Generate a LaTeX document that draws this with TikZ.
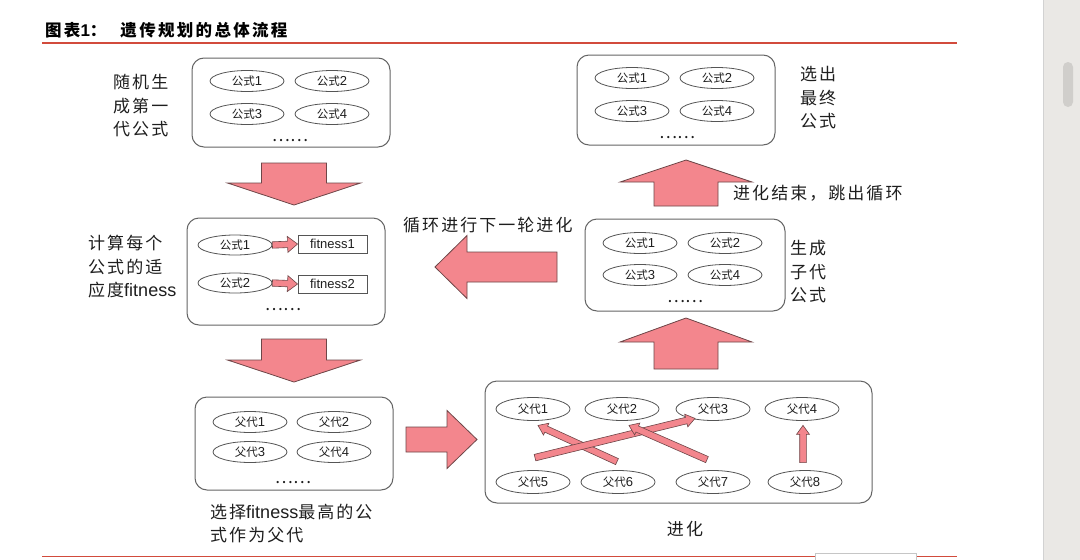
\documentclass[tikz,border=0pt]{standalone}
\usepackage{fontspec}
\setmainfont{Liberation Sans}
\newfontfamily\cjk{Noto Sans CJK SC}
\newfontfamily\cjkl[LetterSpace=12]{Noto Sans CJK SC}
\newfontfamily\cjkt[LetterSpace=14]{Noto Sans CJK SC}
\usetikzlibrary{shapes.geometric,calc}
\definecolor{pinkf}{RGB}{243,134,141}
\definecolor{arrline}{RGB}{110,70,72}
\definecolor{boxline}{RGB}{100,100,100}
\definecolor{ellline}{RGB}{85,85,85}
\definecolor{txt}{RGB}{30,30,30}
\definecolor{redline}{RGB}{210,75,60}
\definecolor{strip}{RGB}{234,232,229}
\definecolor{thumb}{RGB}{208,206,203}
\newcommand{\gongshi}[1]{{\cjk\fontsize{11.5}{13}\selectfont 公式}#1}
\newcommand{\fudai}[1]{{\cjk\fontsize{11.5}{13}\selectfont 父代}#1}
\newcommand{\fit}{{\rmfamily\fontsize{18}{20}\selectfont fitness}}
% #1 tail, #2 tip, #3 shaft half width, #4 head half width, #5 head length, #6 style
\newcommand{\blockarr}[6]{%
  \coordinate (hb) at ($(#2)!#5!(#1)$);
  \draw[#6] ($(#1)!#3!90:(#2)$) -- ($(hb)!#3!90:(#2)$) -- ($(hb)!#4!90:(#2)$) -- (#2)
    -- ($(hb)!#4!-90:(#2)$) -- ($(hb)!#3!-90:(#2)$) -- ($(#1)!#3!-90:(#2)$) -- cycle;}
\tikzset{
  box/.style={draw=boxline, line width=1pt, rounded corners=12pt, inner sep=0pt},
  ell/.style={ellipse, draw=ellline, line width=0.8pt, minimum width=74pt, minimum height=21pt,
    inner sep=0pt, text=txt, font=\fontsize{13}{15}\selectfont},
  frect/.style={draw=ellline, line width=0.9pt, minimum width=69pt, minimum height=18pt,
    inner sep=0pt, text=txt, font=\fontsize{13}{15}\selectfont},
  bigarr/.style={fill=pinkf, draw=arrline, line width=0.8pt, line join=miter},
  smallarr/.style={fill=pinkf, draw=arrline, line width=0.6pt, line join=miter},
  lab/.style={font=\cjkl\fontsize{17}{23.5}\selectfont, text=txt, align=left, inner sep=0pt},
  dots/.style={font=\cjk\fontsize{17}{19}\selectfont, text=txt, inner sep=0pt}
}
\begin{document}
\begin{tikzpicture}[x=1pt,y=-1pt]
\useasboundingbox (0,0) rectangle (1080,560);
\fill[white] (0,0) rectangle (1080,560);
% screen strip on the right
\fill[strip] (1043,0) rectangle (1080,560);
\draw[gray!35, line width=0.6pt] (1043,0) -- (1043,560);
\fill[thumb, rounded corners=5pt] (1063,62) rectangle (1073,107);
% title and rules
\node[anchor=west, inner sep=0pt, text=black, font=\cjkt\bfseries\fontsize{16.5}{18}\selectfont] (title) at (45,30)
  {图表{\fontspec{Liberation Sans Bold}\fontsize{17}{18}\selectfont 1}：\hspace{14pt}遗传规划的总体流程};
\draw[redline, line width=1.5pt] (42,43) -- (957,43);
\draw[redline, line width=1.6pt] (42,556.5) -- (957,556.5);
\filldraw[fill=white, draw=gray!45, line width=0.7pt] (815,553) rectangle (916,563);

% Box A: first generation
\node[box, minimum width=198pt, minimum height=89pt] (A) at (291,102.5) {};
\node[ell] (a1) at (247,81) {\gongshi{1}};
\node[ell] (a2) at (332,81) {\gongshi{2}};
\node[ell] (a3) at (247,114) {\gongshi{3}};
\node[ell] (a4) at (332,114) {\gongshi{4}};
\node[dots] (adots) at (290,141) {……};
\node[lab, anchor=west] (la) at (113,106) {随机生\\成第一\\代公式};

% Box B: final formulas
\node[box, minimum width=198pt, minimum height=90pt] (B) at (676,100) {};
\node[ell] (b1) at (632,78) {\gongshi{1}};
\node[ell] (b2) at (717,78) {\gongshi{2}};
\node[ell] (b3) at (632,111) {\gongshi{3}};
\node[ell] (b4) at (717,111) {\gongshi{4}};
\node[dots] (bdots) at (677,138) {……};
\node[lab, anchor=west] (lb) at (800,98) {选出\\最终\\公式};

% Box C: fitness
\node[box, minimum width=198pt, minimum height=107pt] (C) at (286,271.5) {};
\node[ell, minimum height=20pt] (c1) at (235,245) {\gongshi{1}};
\node[ell, minimum height=20pt] (c2) at (235,283) {\gongshi{2}};
\node[frect] (f1) at (332.5,244) {fitness1};
\node[frect] (f2) at (332.5,284) {fitness2};
\node[dots] (cdots) at (283,310) {……};
\node[lab, anchor=west] (lc) at (88,267) {计算每个\\公式的适\\应度\fit};
\blockarr{c1.east}{f1.west}{3.2pt}{8pt}{10pt}{smallarr}
\blockarr{c2.east}{f2.west}{3.2pt}{8pt}{10pt}{smallarr}

% Box D: offspring
\node[box, minimum width=200pt, minimum height=92pt] (D) at (685,265) {};
\node[ell] (d1) at (640,243) {\gongshi{1}};
\node[ell] (d2) at (725,243) {\gongshi{2}};
\node[ell] (d3) at (640,275) {\gongshi{3}};
\node[ell] (d4) at (725,275) {\gongshi{4}};
\node[dots] (ddots) at (685,302) {……};
\node[lab, anchor=west] (ld) at (790,272) {生成\\子代\\公式};

% Box E: parents
\node[box, minimum width=198pt, minimum height=93pt] (E) at (294,443.5) {};
\node[ell] (e1) at (250,422) {\fudai{1}};
\node[ell] (e2) at (334,422) {\fudai{2}};
\node[ell] (e3) at (250,452) {\fudai{3}};
\node[ell] (e4) at (334,452) {\fudai{4}};
\node[dots] (edots) at (293,483) {……};
\node[lab, anchor=west] (le) at (210,523.5) {选择\fit 最高的公\\式作为父代};

% Box F: evolution
\node[box, minimum width=387pt, minimum height=122pt] (F) at (678.5,442) {};
\node[ell, minimum height=23pt] (p1) at (533,409) {\fudai{1}};
\node[ell, minimum height=23pt] (p2) at (622,409) {\fudai{2}};
\node[ell, minimum height=23pt] (p3) at (713,409) {\fudai{3}};
\node[ell, minimum height=23pt] (p4) at (802,409) {\fudai{4}};
\node[ell, minimum height=23pt] (p5) at (533,482) {\fudai{5}};
\node[ell, minimum height=23pt] (p6) at (618,482) {\fudai{6}};
\node[ell, minimum height=23pt] (p7) at (713,482) {\fudai{7}};
\node[ell, minimum height=23pt] (p8) at (805,482) {\fudai{8}};
\node[lab, anchor=center] (lf) at (685,529) {进化};
\coordinate (t61) at ($(p6.north)+(-1,-8.5)$);
\coordinate (h61) at ($(p1.south)+(5,4.5)$);
\coordinate (t53) at ($(p5.north)+(2,-12.5)$);
\coordinate (h53) at ($(p3.south)+(-18,-2.5)$);
\coordinate (t72) at ($(p7.north)+(-6,-10.5)$);
\coordinate (h72) at ($(p2.south)+(7,4.5)$);
\coordinate (t84) at ($(p8.north)+(-2,-7.5)$);
\coordinate (h84) at ($(p4.south)+(1,4.5)$);
\blockarr{t61}{h61}{3.3pt}{6.5pt}{9pt}{smallarr}
\blockarr{t53}{h53}{3.3pt}{6.5pt}{9pt}{smallarr}
\blockarr{t72}{h72}{3.3pt}{6.5pt}{9pt}{smallarr}
\blockarr{t84}{h84}{3.3pt}{6.5pt}{9pt}{smallarr}

% big arrows
\coordinate (ad1s) at (294,163);   \coordinate (ad1e) at (294,205);
\coordinate (ad2s) at (294,339);   \coordinate (ad2e) at (294,382);
\coordinate (ars) at (406,439.5);  \coordinate (are) at (477,439.5);
\coordinate (au2s) at (686,369);   \coordinate (au2e) at (686,318);
\coordinate (au1s) at (686,206);   \coordinate (au1e) at (686,160);
\coordinate (als) at (557,267);    \coordinate (ale) at (435,267);
\blockarr{ad1s}{ad1e}{32.5pt}{66.5pt}{22pt}{bigarr}
\blockarr{ad2s}{ad2e}{32.5pt}{66.5pt}{22pt}{bigarr}
\blockarr{ars}{are}{12.5pt}{29pt}{30pt}{bigarr}
\blockarr{au2s}{au2e}{32pt}{66pt}{24pt}{bigarr}
\blockarr{au1s}{au1e}{32pt}{66pt}{22pt}{bigarr}
\blockarr{als}{ale}{15pt}{31.5pt}{32pt}{bigarr}
\node[lab, anchor=west] (lend) at (733,193) {进化结束，跳出循环};
\node[lab, anchor=west] (lloop) at (403,225) {循环进行下一轮进化};
\end{tikzpicture}
\end{document}
